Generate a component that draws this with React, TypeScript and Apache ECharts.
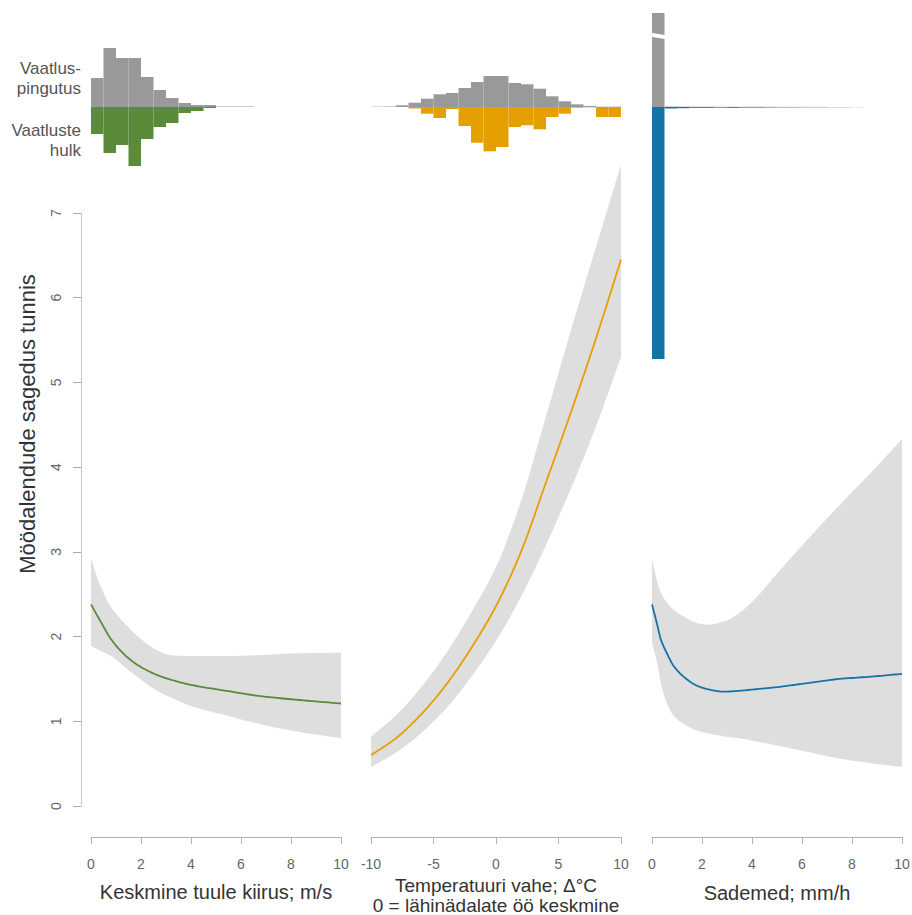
import React, { useEffect, useRef } from "react";
import * as echarts from "echarts";

// ---- Fitted curves ----
const windX = [0, 0.4, 0.8, 1.4, 2, 2.7, 3.2, 4, 5.4, 6.7, 8, 10];
const windFit = [2.38, 2.17, 1.97, 1.77, 1.64, 1.54, 1.49, 1.43, 1.36, 1.3, 1.26, 1.21];
const windUpper = [2.92, 2.58, 2.35, 2.14, 1.97, 1.83, 1.78, 1.77, 1.77, 1.78, 1.8, 1.81];
const windLower = [1.89, 1.83, 1.77, 1.63, 1.49, 1.35, 1.28, 1.18, 1.07, 0.97, 0.89, 0.8];

const tempX = [-10, -8, -6, -4, -2, 0, 2, 4, 6, 8, 10];
const tempFit = [0.6, 0.8, 1.08, 1.43, 1.86, 2.36, 3.0, 3.82, 4.65, 5.52, 6.45];
const tempUpper = [0.82, 1.07, 1.4, 1.8, 2.28, 2.82, 3.6, 4.6, 5.62, 6.6, 7.57];
const tempLower = [0.46, 0.63, 0.86, 1.15, 1.52, 1.95, 2.47, 3.08, 3.75, 4.48, 5.3];

const rainX = [0, 0.2, 0.35, 0.6, 0.85, 1.25, 1.8, 2.2, 2.9, 3.5, 4.2, 4.9, 6.2, 7.5, 8.9, 10];
const rainFit = [2.38, 2.15, 1.97, 1.8, 1.66, 1.53, 1.42, 1.38, 1.35, 1.36, 1.38, 1.4, 1.45, 1.5, 1.53, 1.56];
const rainUpper = [2.92, 2.66, 2.52, 2.4, 2.32, 2.24, 2.16, 2.14, 2.18, 2.28, 2.47, 2.71, 3.14, 3.55, 3.98, 4.33];
const rainLower = [1.92, 1.7, 1.45, 1.21, 1.07, 0.97, 0.89, 0.86, 0.82, 0.8, 0.76, 0.72, 0.64, 0.56, 0.5, 0.46];

// ---- Histograms: sampling effort (up) and number of observations (down), relative units ----
const windBins = ["0", "0.5", "1", "1.5", "2", "2.5", "3", "3.5", "4", "4.5", "5", "5.5", "6", "6.5", "7", "7.5", "8", "8.5", "9", "9.5"];
const windEffort = [29, 59, 49, 49, 30, 17, 9, 4, 2, 2, 0.5, 0.5, 0.5, 0, 0, 0, 0, 0, 0, 0];
const windObs = [-27, -46, -38, -59, -32, -20, -16, -6, -4, -1, 0, 0, 0, 0, 0, 0, 0, 0, 0, 0];

const tempBins = ["-10", "-9", "-8", "-7", "-6", "-5", "-4", "-3", "-2", "-1", "0", "1", "2", "3", "4", "5", "6", "7", "8", "9"];
const tempEffort = [0.3, 0.5, 1.7, 4.3, 8.3, 12.7, 14, 19, 25, 31, 31, 24, 22.7, 18.3, 10.7, 5.7, 2.7, 1, 0.3, 0.3];
const tempObs = [0, 0, 0, -1.5, -6.7, -11, -2, -19, -35.7, -44.3, -40, -20, -18.3, -22.3, -10, -6.7, -0.7, -0.3, -10, -10];

const rainBins = ["0", "0.5", "1", "1.5", "2", "2.5", "3", "3.5", "4", "4.5", "5", "5.5", "6", "6.5", "7", "7.5", "8", "8.5", "9", "9.5"];
const rainEffort = [94, 0.4, 0.3, 0.3, 0.3, 0.2, 0.2, 0.2, 0.2, 0.2, 0.1, 0.1, 0.1, 0.1, 0, 0, 0, 0, 0, 0];
const rainObs = [-252, -1.5, -1.2, -0.8, -0.8, -0.6, -0.8, -0.6, -0.6, -0.5, -0.4, -0.4, -0.3, -0.3, -0.2, -0.2, -0.1, 0, 0, 0];

const xTitles = ["Keskmine tuule kiirus; m/s", "Temperatuuri vahe; Δ°C\n0 = lähinädalate öö keskmine", "Sademed; mm/h"];
const yTitle = "Möödalendude sagedus tunnis";

const FONT = '"Liberation Sans", Arial, Helvetica, sans-serif';
const COLORS = ["#5b8a3a", "#e69f00", "#1474a8"];
const GRAY = "#999999";
const BAND = "#dedede";

// Monotone cubic (Fritsch–Carlson) smoothing of already-projected pixel points, for drawing only.
function smoothPx(pts: number[][]): number[][] {
  const n = pts.length;
  if (n < 3) return pts;
  const dx: number[] = [], m: number[] = [];
  for (let i = 0; i < n - 1; i++) {
    dx.push(pts[i + 1][0] - pts[i][0]);
    m.push((pts[i + 1][1] - pts[i][1]) / dx[i]);
  }
  const t: number[] = [m[0]];
  for (let i = 1; i < n - 1; i++) {
    if (m[i - 1] * m[i] <= 0) t.push(0);
    else {
      const w1 = 2 * dx[i] + dx[i - 1], w2 = dx[i] + 2 * dx[i - 1];
      t.push((w1 + w2) / (w1 / m[i - 1] + w2 / m[i]));
    }
  }
  t.push(m[n - 2]);
  const out: number[][] = [];
  const steps = 12;
  for (let i = 0; i < n - 1; i++) {
    const h = dx[i];
    for (let s = 0; s < steps; s++) {
      const u = s / steps;
      const h00 = 2 * u ** 3 - 3 * u ** 2 + 1, h10 = u ** 3 - 2 * u ** 2 + u;
      const h01 = -2 * u ** 3 + 3 * u ** 2, h11 = u ** 3 - u ** 2;
      out.push([
        pts[i][0] + u * h,
        h00 * pts[i][1] + h10 * h * t[i] + h01 * pts[i + 1][1] + h11 * h * t[i + 1],
      ]);
    }
  }
  out.push(pts[n - 1]);
  return out;
}

export default function App() {
  const ref = useRef<HTMLDivElement>(null);
  useEffect(() => {
    if (!ref.current) return;
    const chart = echarts.init(ref.current, undefined, { renderer: "svg" });
    const panels = [
      { x: windX, fit: windFit, up: windUpper, lo: windLower, min: 0, max: 10, interval: 2, bins: windBins, eff: windEffort, obs: windObs, left: 91, gap: 44, fs: 20, lh: 21 },
      { x: tempX, fit: tempFit, up: tempUpper, lo: tempLower, min: -10, max: 10, interval: 5, bins: tempBins, eff: tempEffort, obs: tempObs, left: 371, gap: 31, fs: 19, lh: 20 },
      { x: rainX, fit: rainFit, up: rainUpper, lo: rainLower, min: 0, max: 10, interval: 2, bins: rainBins, eff: rainEffort, obs: rainObs, left: 652, gap: 45, fs: 20, lh: 21 },
    ];
    const grids: any[] = [];
    const xAxes: any[] = [];
    const yAxes: any[] = [];
    const series: any[] = [];
    panels.forEach((p, i) => {
      grids.push({ left: p.left, width: 250, top: 213, height: 593, outerBoundsMode: "none" });
      xAxes.push({
        type: "value", gridIndex: i, min: p.min, max: p.max, interval: p.interval,
        position: "bottom", offset: 31,
        axisLine: { show: true, onZero: false, lineStyle: { color: "#b0b0b0", width: 1 } },
        axisTick: { show: true, length: 7, lineStyle: { color: "#b0b0b0" } },
        axisLabel: { color: "#666", fontSize: 14, fontFamily: FONT, margin: 20, showMinLabel: true, showMaxLabel: true },
        splitLine: { show: false },
        name: xTitles[i], nameLocation: "middle", nameGap: p.gap,
        nameTextStyle: { color: "#333", fontSize: p.fs, fontFamily: FONT, lineHeight: p.lh },
      });
      yAxes.push({
        type: "value", gridIndex: i, min: 0, max: 7, interval: 1, show: i === 0,
        position: "left", offset: 10,
        axisLine: { show: true, onZero: false, lineStyle: { color: "#c8c8c8", width: 1 } },
        axisTick: { show: true, length: 8, lineStyle: { color: "#aaa" } },
        axisLabel: { color: "#666", fontSize: 14, fontFamily: FONT, rotate: 90, margin: 18 },
        splitLine: { show: false },
      });
      series.push({
        type: "custom", xAxisIndex: i, yAxisIndex: i, clip: false, silent: true, z: 1,
        data: [[p.x[0], p.lo[0]]],
        renderItem: (_params: any, api: any) => {
          const up = smoothPx(p.x.map((x, k) => api.coord([x, p.up[k]])));
          const lo = smoothPx(p.x.map((x, k) => api.coord([x, p.lo[k]])));
          return { type: "polygon", shape: { points: up.concat(lo.reverse()) }, style: { fill: BAND } };
        },
      });
      series.push({
        type: "custom", xAxisIndex: i, yAxisIndex: i, clip: false, silent: true, z: 3,
        data: [[p.x[0], p.fit[0]]],
        renderItem: (_params: any, api: any) => {
          const pts = smoothPx(p.x.map((x, k) => api.coord([x, p.fit[k]])));
          return { type: "polyline", shape: { points: pts }, style: { stroke: COLORS[i], lineWidth: 1.8, fill: null } };
        },
      });
    });
    panels.forEach((p, i) => {
      const gi = 3 + i;
      grids.push({ left: p.left, width: 250, top: 7, height: 360, outerBoundsMode: "none" });
      xAxes.push({ type: "category", gridIndex: gi, data: p.bins, boundaryGap: true, show: false });
      yAxes.push({ type: "value", gridIndex: gi, min: -260, max: 100, show: false });
      series.push({
        type: "bar", xAxisIndex: gi, yAxisIndex: gi, data: p.eff, barWidth: "100%", barGap: "-100%",
        itemStyle: { color: GRAY }, z: 5,
      });
      series.push({
        type: "bar", xAxisIndex: gi, yAxisIndex: gi, data: p.obs, barWidth: "100%", barGap: "-100%",
        itemStyle: { color: COLORS[i] }, z: 5,
      });
    });
    const txt = (text: string, x: number, y: number) => ({
      type: "text", x, y, z: 10,
      style: { text, fill: "#555", font: `17px ${FONT}`, align: "right", verticalAlign: "middle" },
    });
    chart.setOption({
      animation: false,
      backgroundColor: "#ffffff",
      grid: grids,
      xAxis: xAxes,
      yAxis: yAxes,
      series,
      graphic: [
        {
          type: "text", x: 27, y: 424, rotation: Math.PI / 2, z: 10,
          style: { text: yTitle, fill: "#333", font: `22px ${FONT}`, align: "center", verticalAlign: "middle" },
        },
        txt("Vaatlus-", 81, 68),
        txt("pingutus", 81, 88),
        txt("Vaatluste", 81, 130),
        txt("hulk", 81, 150),
        {
          type: "polygon", z: 100,
          shape: { points: [[650, 32.5], [667, 35.5], [667, 39.5], [650, 36.5]] },
          style: { fill: "#ffffff" },
        },
      ],
    });
    return () => chart.dispose();
  }, []);
  return <div ref={ref} style={{ position: "fixed", left: 0, top: 0, width: 912, height: 915 }} />;
}
